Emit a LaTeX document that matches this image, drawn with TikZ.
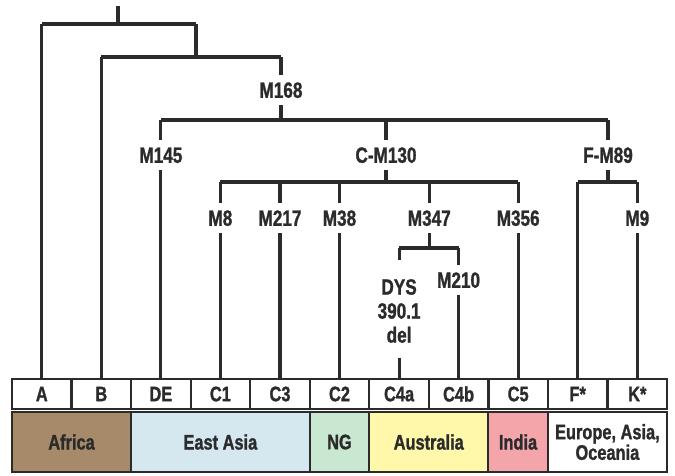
\documentclass[tikz,border=0pt]{standalone}
\usepackage{fontspec}
\setmainfont{Liberation Sans}[FakeStretch=0.78,BoldFeatures={FakeBold=1.2}]
\definecolor{ink}{HTML}{2B2B2B}
\definecolor{africa}{HTML}{A68A6A}
\definecolor{eastasia}{HTML}{D5E8F0}
\definecolor{ngc}{HTML}{C8E8D2}
\definecolor{austr}{HTML}{FFF7AA}
\definecolor{india}{HTML}{F4A5AA}
\begin{document}
\begin{tikzpicture}[x=1pt,y=-1pt,
  branch/.style={draw=ink,line width=3.1pt},
  tlabel/.style={font=\fontsize{22}{26}\selectfont\bfseries,text=ink,inner xsep=2pt,inner ysep=7pt,text height=15.5pt,text depth=0pt},
  hbox/.style={draw=ink,line width=2.2pt,fill=white,minimum width=59.55pt,minimum height=30pt,outer sep=0pt,inner sep=0pt,
     font=\fontsize{21}{24}\selectfont\bfseries,text=ink},
  rbox/.style={draw=ink,line width=2.2pt,minimum height=60pt,outer sep=0pt,inner sep=0pt,align=center,
     font=\fontsize{21}{19}\selectfont\bfseries,text=ink}]
\useasboundingbox (0,0) rectangle (675,475);
% label boxes
\node[hbox] (bA)  at (41.8,394) {A};
\node[hbox] (bB)  at (101.3,394) {B};
\node[hbox] (bDE) at (160.9,394) {DE};
\node[hbox] (bC1) at (220.4,394) {C1};
\node[hbox] (bC3) at (280.0,394) {C3};
\node[hbox] (bC2) at (339.5,394) {C2};
\node[hbox] (bC4a) at (399.1,394) {C4a};
\node[hbox] (bC4b) at (458.6,394) {C4b};
\node[hbox] (bC5) at (518.2,394) {C5};
\node[hbox] (bF)  at (577.7,394) {F*};
\node[hbox] (bK)  at (637.3,394) {K*};
% region boxes
\node[rbox,fill=africa,minimum width=119.1pt] (rAf) at (71.55,442) {Africa};
\node[rbox,fill=eastasia,minimum width=178.65pt] (rEA) at (220.4,442) {East Asia};
\node[rbox,fill=ngc,minimum width=59.55pt] (rNG) at (339.45,442) {NG};
\node[rbox,fill=austr,minimum width=119.1pt] (rAu) at (428.75,442) {Australia};
\node[rbox,fill=india,minimum width=59.55pt] (rIn) at (518.05,442) {India};
\node[rbox,fill=white,minimum width=119.1pt] (rEu) at (607.4,442) {Europe, Asia,\\Oceania};
% tree labels
\node[tlabel] (M168) at (281,90) {M168};
\node[tlabel] (M145) at (160.9,155) {M145};
\node[tlabel] (CM130) at (386,155) {C-M130};
\node[tlabel] (FM89) at (608,155) {F-M89};
\node[tlabel] (M8) at (220.4,218) {M8};
\node[tlabel] (M217) at (280.0,218) {M217};
\node[tlabel] (M38) at (339.5,218) {M38};
\node[tlabel] (M347) at (429.3,218) {M347};
\node[tlabel] (M356) at (518.2,218) {M356};
\node[tlabel] (M9) at (637.3,218) {M9};
\node[tlabel] (M210) at (458.6,280) {M210};
\node[inner sep=0pt,minimum height=97pt,minimum width=40pt] (DYS) at (399.1,309) {};
\node[font=\fontsize{22}{24}\selectfont\bfseries,text=ink,align=center,inner sep=0pt] (DYStxt) at (399.1,311) {DYS\\390.1\\del};
% junction coordinates
\coordinate (root) at (118,6);
\coordinate (j1) at (118,24);
\coordinate (j1a) at (41.8,24);
\coordinate (j1b) at (196,24);
\coordinate (j2b) at (196,57);
\coordinate (j2a) at (101.3,57);
\coordinate (j2c) at (281,57);
\coordinate (j3) at (281,120);
\coordinate (j3a) at (160.9,120);
\coordinate (j3b) at (386,120);
\coordinate (j3c) at (608,120);
\coordinate (jc) at (386,182);
\coordinate (jc1) at (220.4,182);
\coordinate (jc2) at (280.0,182);
\coordinate (jc3) at (339.5,182);
\coordinate (jc4) at (429.3,182);
\coordinate (jc5) at (518.2,182);
\coordinate (jf) at (608,182);
\coordinate (jf1) at (577.7,182);
\coordinate (jf2) at (637.3,182);
\coordinate (jd) at (429.3,248);
\coordinate (jd1) at (399.1,248);
\coordinate (jd2) at (458.6,248);
% branches
\draw[branch] (root) -- (j1);
\draw[branch] (j1a) -- (j1b);
\draw[branch] (j1a) -- (bA.north);
\draw[branch] (j1b) -- (j2b);
\draw[branch] (j2a) -- (j2c);
\draw[branch] (j2a) -- (bB.north);
\draw[branch] (j2c) -- (M168.north);
\draw[branch] (M168.south) -- (j3);
\draw[branch] (j3a) -- (j3c);
\draw[branch] (j3a) -- (M145.north);
\draw[branch] (M145.south) -- (bDE.north);
\draw[branch] (j3b) -- (CM130.north);
\draw[branch] (CM130.south) -- (jc);
\draw[branch] (j3c) -- (FM89.north);
\draw[branch] (FM89.south) -- (jf);
\draw[branch] (jc1) -- (jc5);
\draw[branch] (jf1) -- (jf2);
\draw[branch] (jc1) -- (M8.north);
\draw[branch] (M8.south) -- (bC1.north);
\draw[branch] (jc2) -- (M217.north);
\draw[branch] (M217.south) -- (bC3.north);
\draw[branch] (jc3) -- (M38.north);
\draw[branch] (M38.south) -- (bC2.north);
\draw[branch] (jc4) -- (M347.north);
\draw[branch] (M347.south) -- (jd);
\draw[branch] (jc5) -- (M356.north);
\draw[branch] (M356.south) -- (bC5.north);
\draw[branch] (jf1) -- (bF.north);
\draw[branch] (jf2) -- (M9.north);
\draw[branch] (M9.south) -- (bK.north);
\draw[branch] (jd1) -- (jd2);
\draw[branch] (jd1) -- (DYS.north);
\draw[branch] (DYS.south) -- (bC4a.north);
\draw[branch] (jd2) -- (M210.north);
\draw[branch] (M210.south) -- (bC4b.north);
\end{tikzpicture}
\end{document}
